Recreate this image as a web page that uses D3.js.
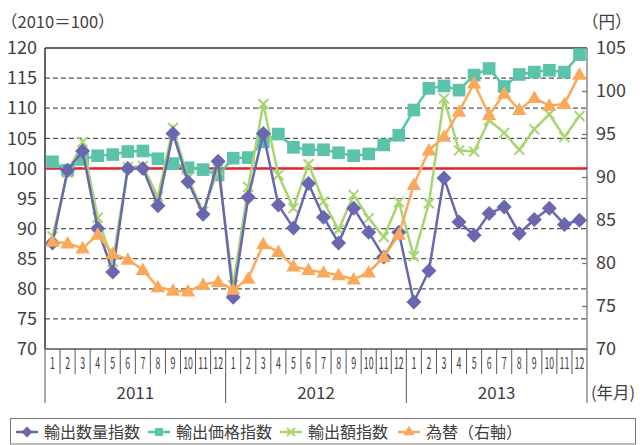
<!DOCTYPE html>
<html><head><meta charset="utf-8">
<script src="https://cdn.jsdelivr.net/npm/d3@7"></script>
<style>
body{margin:0;background:#fff;}
svg{display:block;font-family:"Noto Sans CJK JP","Noto Sans",sans-serif;}
</style></head>
<body><svg id="c" width="643" height="445"></svg>
<script>
const years = ["2011","2012","2013"];
const months = [1,2,3,4,5,6,7,8,9,10,11,12];
const leftTicks = [70,75,80,85,90,95,100,105,110,115,120];
const rightTicks = [70,75,80,85,90,95,100,105];
const volume = [87.6,99.7,102.9,90.0,82.8,100.0,100.0,93.8,105.8,97.8,92.4,101.2,
                78.6,95.2,105.8,93.9,90.1,97.5,91.9,87.6,93.4,89.4,85.3,89.4,
                77.8,83.0,98.4,91.1,88.9,92.5,93.6,89.2,91.5,93.4,90.7,91.4];
const price  = [101.1,99.7,101.5,102.1,102.3,102.8,102.9,101.6,100.8,100.1,99.8,98.9,
                101.7,101.8,104.4,105.7,103.5,103.1,103.1,102.6,102.1,102.4,103.9,105.5,
                109.7,113.3,113.7,113.0,115.5,116.6,113.6,115.6,116.0,116.3,116.0,118.9];
const value  = [88.7,99.3,104.4,91.8,84.5,100.2,100.4,95.3,106.7,98.4,92.8,99.8,
                80.6,96.9,110.7,98.9,93.4,100.7,94.5,89.8,95.6,91.7,88.6,94.4,
                85.4,94.2,111.6,103.0,102.8,108.0,105.9,103.1,106.5,109.0,105.2,108.7];
const fx     = [82.5,82.3,81.7,83.3,81.1,80.4,79.2,77.2,76.8,76.7,77.5,77.8,
                76.9,78.2,82.2,81.3,79.6,79.2,78.9,78.6,78.1,78.9,80.7,83.3,
                89.1,93.1,94.7,97.6,100.9,97.2,99.7,97.8,99.2,98.3,98.5,101.9];
const seriesNames = ["輸出数量指数","輸出価格指数","輸出額指数","為替（右軸）"];
const baseLine = 100;

const svg = d3.select("#c");
const L=45, R=587, T=48, B=349;
const idx = d3.range(volume.length);
const x = d3.scaleBand().domain(idx).range([L,R]).padding(0);
const yL = d3.scaleLinear().domain([70,120]).range([B,T]);
const yR = d3.scaleLinear().domain([70,105]).range([B,T]);
const cx = i => x(i)+x.bandwidth()/2;
const txt = "#404040";

// grid
svg.append("g").selectAll("line").data(leftTicks.filter(v=>v>70&&v<120)).join("line")
  .attr("x1",L).attr("x2",R).attr("y1",d=>yL(d)).attr("y2",d=>yL(d))
  .attr("stroke","#555").attr("stroke-width",1.2).attr("stroke-dasharray","5,3");
// frame
svg.append("line").attr("x1",L).attr("x2",R).attr("y1",T).attr("y2",T).attr("stroke","#333").attr("stroke-width",1.3);
svg.append("line").attr("x1",L).attr("x2",R).attr("y1",B).attr("y2",B).attr("stroke","#555").attr("stroke-width",1.3);
svg.append("line").attr("x1",L).attr("x2",L).attr("y1",T).attr("y2",B).attr("stroke","#333").attr("stroke-width",1.5);
svg.append("line").attr("x1",R).attr("x2",R).attr("y1",T).attr("y2",B).attr("stroke","#888").attr("stroke-width",1.5);

// left axis
const gl = svg.append("g").attr("transform",`translate(${L},0)`)
  .call(d3.axisLeft(yL).tickValues(leftTicks).tickSize(0).tickPadding(8));
gl.select(".domain").remove();
gl.selectAll("text").attr("font-size",18).attr("fill",txt).attr("font-family",'"Noto Sans CJK JP",sans-serif');
// right axis
const gr = svg.append("g").attr("transform",`translate(${R},0)`)
  .call(d3.axisRight(yR).tickValues(rightTicks).tickSizeInner(-5).tickSizeOuter(0).tickPadding(9));
gr.select(".domain").remove();
gr.selectAll("line").attr("stroke","#777").attr("stroke-width",1.3);
gr.selectAll("text").attr("font-size",18).attr("fill",txt).attr("font-family",'"Noto Sans CJK JP",sans-serif');

// red 100 line
svg.append("line").attr("x1",L).attr("x2",R).attr("y1",yL(baseLine)).attr("y2",yL(baseLine))
  .attr("stroke","#E3242B").attr("stroke-width",2.5);

// category axis
const gx = svg.append("g").attr("transform",`translate(0,${B})`)
  .call(d3.axisBottom(x).tickSize(0).tickPadding(0).tickFormat(i=>months[i%12]));
gx.select(".domain").remove();
gx.selectAll(".tick text").attr("y",0).attr("dy",0)
  .attr("transform","translate(0,20) scale(0.55,1)").attr("font-size",16).attr("fill",txt)
  .attr("font-family",'"Noto Sans CJK JP",sans-serif');
const seps = d3.range(volume.length+1);
svg.append("g").selectAll("line").data(seps).join("line")
  .attr("x1",i=>i<volume.length? x(i):R).attr("x2",i=>i<volume.length? x(i):R)
  .attr("y1",B).attr("y2",i=>i%12===0?403:374)
  .attr("stroke","#555").attr("stroke-width",1);
svg.append("g").selectAll("text").data(years).join("text")
  .attr("x",(d,k)=>(x(k*12)+ (k===2?R:x(k*12+12)))/2).attr("y",399)
  .attr("text-anchor","middle").attr("font-size",17).attr("fill",txt).text(d=>d);
svg.append("text").attr("x",591).attr("y",399).attr("font-size",16.5).attr("fill",txt).text("(年月)");

// titles
svg.append("text").attr("x",1).attr("y",28).attr("font-size",16.5).attr("fill",txt).text("（2010＝100）");
svg.append("text").attr("x",582).attr("y",28).attr("font-size",16.5).attr("fill",txt).text("（円）");

// series
const colors = {vol:"#6867AF", price:"#5CC3AB", val:"#A8D572", fx:"#FAA95A"};
function line(data, y){ return d3.line().x((d,i)=>cx(i)).y(d=>y(d))(data); }
const diamondPath = "M0,-7.5L7.5,0L0,7.5L-7.5,0Z";
const square = d3.symbol().type(d3.symbolSquare).size(160);
const tri = d3.symbol().type(d3.symbolTriangle).size(90);

// price
svg.append("path").attr("d",line(price,yL)).attr("fill","none").attr("stroke",colors.price).attr("stroke-width",2.5);
svg.append("g").selectAll("path").data(price).join("path").attr("d",square)
  .attr("transform",(d,i)=>`translate(${cx(i)},${yL(d)})`).attr("fill",colors.price);
// value
svg.append("path").attr("d",line(value,yL)).attr("fill","none").attr("stroke",colors.val).attr("stroke-width",2.5);
svg.append("g").selectAll("path").data(value).join("path")
  .attr("d","M-5,-5L5,5M-5,5L5,-5")
  .attr("transform",(d,i)=>`translate(${cx(i)},${yL(d)})`).attr("stroke",colors.val).attr("stroke-width",2).attr("fill","none");
// volume
svg.append("path").attr("d",line(volume,yL)).attr("fill","none").attr("stroke",colors.vol).attr("stroke-width",2.5);
svg.append("g").selectAll("path").data(volume).join("path").attr("d",diamondPath)
  .attr("transform",(d,i)=>`translate(${cx(i)},${yL(d)})`).attr("fill",colors.vol);
// fx
svg.append("path").attr("d",line(fx,yR)).attr("fill","none").attr("stroke",colors.fx).attr("stroke-width",2.5);
svg.append("g").selectAll("path").data(fx).join("path").attr("d",tri)
  .attr("transform",(d,i)=>`translate(${cx(i)},${yR(d)+1})`).attr("fill",colors.fx);

// legend
svg.append("rect").attr("x",10.5).attr("y",418.5).attr("width",625).attr("height",25.5)
  .attr("fill","none").attr("stroke","#777").attr("stroke-width",1);
const lg = [
  {x:16, tx:44, c:colors.vol, m:"d"},
  {x:148, tx:176, c:colors.price, m:"s"},
  {x:280, tx:308, c:colors.val, m:"x"},
  {x:398, tx:426, c:colors.fx, m:"t"}];
const ly = 432;
lg.forEach((o,k)=>{
  svg.append("line").attr("x1",o.x).attr("x2",o.x+22).attr("y1",ly).attr("y2",ly).attr("stroke",o.c).attr("stroke-width",2.5);
  const mx=o.x+11;
  if(o.m==="d") svg.append("path").attr("d","M0,-5.5L5.5,0L0,5.5L-5.5,0Z").attr("transform",`translate(${mx},${ly})`).attr("fill",o.c);
  if(o.m==="s") svg.append("path").attr("d",d3.symbol().type(d3.symbolSquare).size(64)).attr("transform",`translate(${mx},${ly})`).attr("fill",o.c);
  if(o.m==="x") svg.append("path").attr("d","M-4,-4L4,4M-4,4L4,-4").attr("transform",`translate(${mx},${ly})`).attr("stroke",o.c).attr("stroke-width",2);
  if(o.m==="t") svg.append("path").attr("d",d3.symbol().type(d3.symbolTriangle).size(55)).attr("transform",`translate(${mx},${ly})`).attr("fill",o.c);
  svg.append("text").attr("x",o.tx).attr("y",ly+6).attr("font-size",16).attr("fill",txt).text(seriesNames[k]);
});
</script></body></html>
